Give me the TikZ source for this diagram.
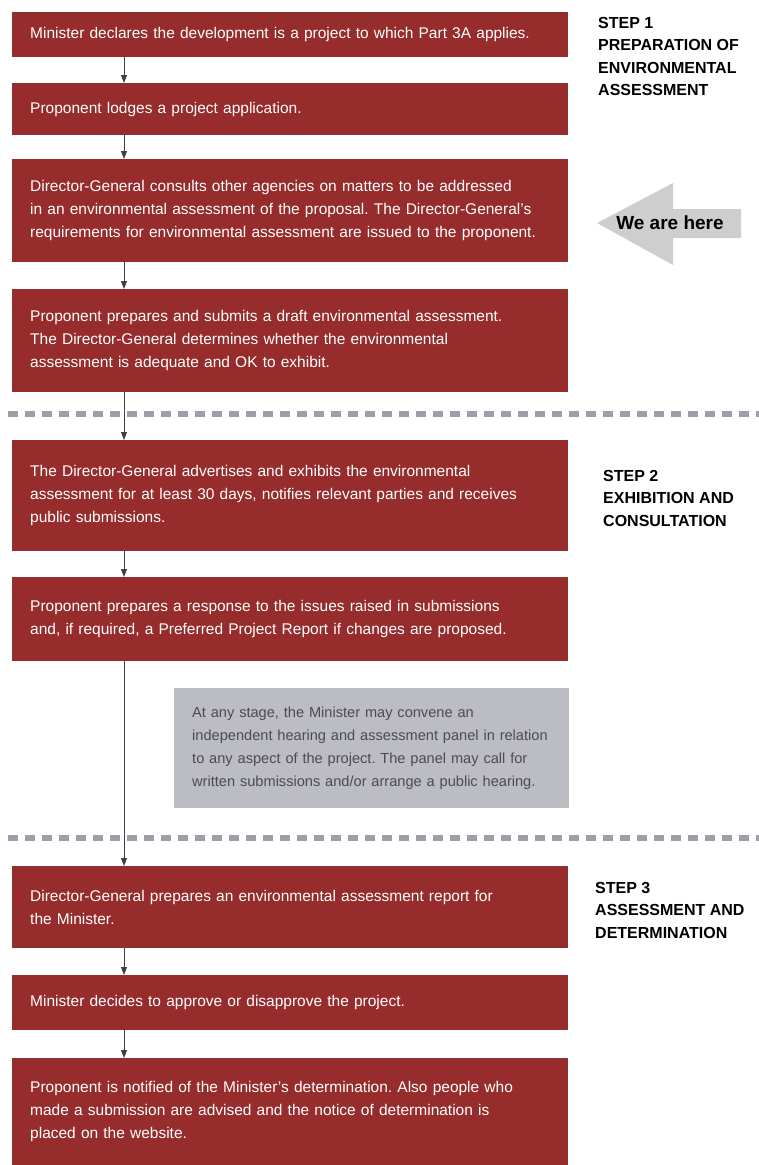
\documentclass[tikz,border=0pt]{standalone}
\usepackage{fontspec}
\setmainfont{Liberation Sans}
\usetikzlibrary{arrows.meta}
\definecolor{boxred}{RGB}{150,44,44}
\definecolor{panelgrey}{RGB}{188,189,195}
\definecolor{dashgrey}{RGB}{158,158,168}
\definecolor{heregrey}{RGB}{206,206,206}
\frenchspacing
\begin{document}
\begin{tikzpicture}[x=1pt,y=-1pt,
    box/.style={rectangle,fill=boxred,anchor=north west,inner xsep=18pt,inner ysep=0pt,
      text width=520pt,align=left,text=white,font=\fontsize{15.5}{23}\selectfont},
    steplbl/.style={anchor=north west,inner sep=0pt,align=left,
      font=\fontsize{16}{22.5}\selectfont\bfseries},
    conn/.style={draw=black!75,line width=0.9pt,-{Triangle[length=8pt,width=6pt]}},
    sep/.style={draw=dashgrey,line width=6pt,dash pattern=on 10pt off 7pt}]
  \useasboundingbox (0,0) rectangle (759,1165);
  % step 1
  \node[box,minimum height=45pt] (b1) at (12,12)
    {Minister declares the development is a project to which Part 3A applies.};
  \node[box,minimum height=52pt] (b2) at (12,83) {Proponent lodges a project application.};
  \node[box,minimum height=103pt] (b3) at (12,159)
    {Director-General consults other agencies on matters to be addressed\\
     in an environmental assessment of the proposal. The Director-General’s\\
     requirements for environmental assessment are issued to the proponent.};
  \node[box,minimum height=103pt] (b4) at (12,289)
    {Proponent prepares and submits a draft environmental assessment.\\
     The Director-General determines whether the environmental\\
     assessment is adequate and OK to exhibit.};
  \node[steplbl] (s1) at (598,17) {STEP 1\\PREPARATION OF\\ENVIRONMENTAL\\ASSESSMENT};
  \fill[heregrey] (597,223) -- (673,183) -- (673,209) -- (741,209) -- (741,238)
    -- (673,238) -- (673,265) -- cycle;
  \node[font=\fontsize{19}{22}\selectfont\bfseries] (here) at (670,223) {We are here};
  % step 2
  \node[box,minimum height=111pt] (b5) at (12,440)
    {The Director-General advertises and exhibits the environmental\\
     assessment for at least 30 days, notifies relevant parties and receives\\
     public submissions.};
  \node[box,minimum height=84pt] (b6) at (12,577)
    {Proponent prepares a response to the issues raised in submissions\\
     and, if required, a Preferred Project Report if changes are proposed.};
  \node[steplbl] (s2) at (603,470) {STEP 2\\EXHIBITION AND\\CONSULTATION};
  \node[anchor=north west,fill=panelgrey,minimum height=120pt,inner xsep=18pt,
    inner ysep=0pt,text width=359pt,align=left,text={rgb,255:red,75;green,75;blue,80},
    font=\fontsize{14.6}{23.3}\selectfont] (panel) at (174,688)
    {At any stage, the Minister may convene an\\
     independent hearing and assessment panel in relation\\
     to any aspect of the project. The panel may call for\\
     written submissions and/or arrange a public hearing.};
  % step 3
  \node[box,minimum height=82pt] (b7) at (12,866)
    {Director-General prepares an environmental assessment report for\\the Minister.};
  \node[box,minimum height=55pt] (b8) at (12,975)
    {Minister decides to approve or disapprove the project.};
  \node[box,minimum height=107pt] (b9) at (12,1058)
    {Proponent is notified of the Minister’s determination. Also people who\\
     made a submission are advised and the notice of determination is\\
     placed on the website.};
  \node[steplbl] (s3) at (595,882) {STEP 3\\ASSESSMENT AND\\DETERMINATION};
  % separators and connectors
  \draw[sep] (8,414) -- (762,414);
  \draw[sep] (8,838) -- (762,838);
  \coordinate (ax) at (124,0);
  \foreach \a/\b in {b1/b2, b2/b3, b3/b4, b4/b5, b5/b6, b6/b7, b7/b8, b8/b9}{
    \draw[conn] (\a.south -| ax) -- (\b.north -| ax);
  }
\end{tikzpicture}
\end{document}
